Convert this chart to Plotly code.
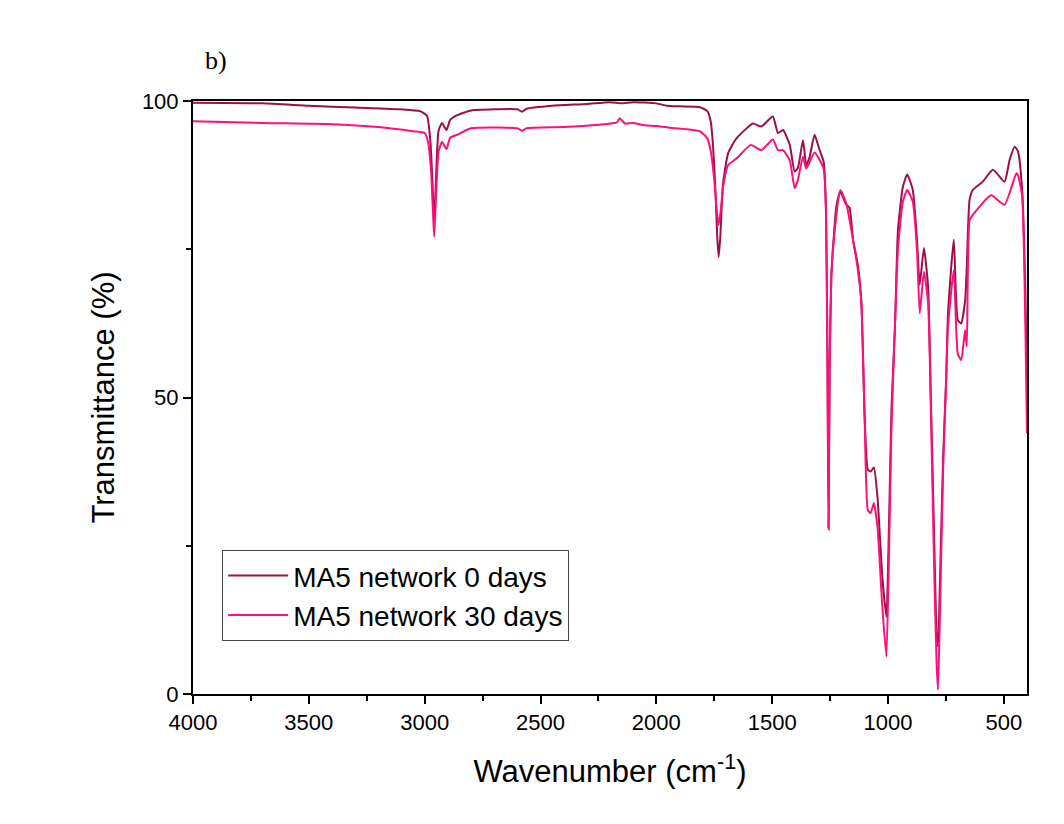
import plotly.graph_objects as go

# Wavenumber (cm-1) and transmittance (%)
wn_0 = [4000, 3700, 3500, 3300, 3100, 3020, 2990, 2975, 2965, 2959, 2952, 2940, 2925, 2906, 2890,
        2860, 2800, 2700, 2600, 2580, 2560, 2450, 2300, 2200, 2150, 2100, 2000, 1955, 1900, 1815,
        1780, 1765, 1755, 1745, 1737, 1731, 1724, 1712, 1690, 1654, 1583, 1547, 1497, 1475, 1453,
        1424, 1403, 1389, 1367, 1353, 1338, 1317, 1295, 1278, 1268, 1262, 1257, 1252, 1245, 1237,
        1223, 1206, 1180, 1166, 1151, 1130, 1115, 1101, 1087, 1075, 1061, 1045, 1025, 1007, 995,
        985, 970, 957, 936, 917, 893, 875, 863, 845, 827, 815, 800, 790, 784, 775, 762, 749, 741,
        716, 699, 684, 667, 660, 648, 634, 591, 547, 497, 475, 453, 439, 421, 407, 400]
tr_0 = [99.7, 99.6, 99.2, 98.9, 98.6, 98.3, 97.5, 93, 85, 79, 86, 95, 96.3, 95.1, 96.8,
        97.6, 98.4, 98.6, 98.6, 98.2, 98.7, 99.2, 99.5, 99.8, 99.6, 99.8, 99.6, 99.2, 99.1, 99.0,
        98.3, 96.5, 92.3, 85, 77, 73.7, 77, 86.1, 91.2, 93.7, 96.2, 95.7, 97.4, 94.6, 95.1,
        92.6, 88.1, 88.7, 93.4, 89.2, 90.6, 94.3, 91.7, 89.8, 82, 60, 28, 55, 70, 75.4,
        82.2, 84.7, 82.5, 82, 76.6, 72.3, 66, 47, 37.8, 37.5, 38.2, 33, 20, 13.0, 30,
        48, 62, 78.2, 85.5, 87.6, 85, 76.6, 69.0, 75.2, 68.7, 50, 25, 10, 8, 20, 40, 53, 64.2,
        76.6, 63.1, 62.5, 66.4, 72, 83.3, 85, 86.4, 88.4, 86.4, 90.1, 92.3, 91.5, 85, 68, 52]

wn_30 = [4000, 3700, 3400, 3200, 3050, 3000, 2985, 2972, 2965, 2959, 2952, 2940, 2925, 2906, 2890,
         2860, 2800, 2600, 2580, 2560, 2400, 2250, 2170, 2158, 2150, 2135, 2100, 2050, 2000, 1942,
         1813, 1780, 1765, 1750, 1738, 1731, 1722, 1712, 1690, 1654, 1592, 1547, 1497, 1475, 1453,
         1424, 1403, 1389, 1367, 1353, 1317, 1278, 1268, 1262, 1256, 1252, 1245, 1237, 1206, 1180,
         1151, 1130, 1115, 1101, 1087, 1075, 1061, 1045, 1025, 1007, 995, 985, 970, 957, 936, 917,
         893, 875, 863, 845, 827, 815, 800, 790, 784, 775, 762, 749, 741, 716, 699, 684, 667, 660,
         648, 634, 555, 497, 446, 439, 421, 407, 400]
tr_30 = [96.6, 96.3, 96.1, 95.6, 94.9, 94.6, 93, 88, 82, 77.1, 83, 91.5, 93.1, 91.9, 93.8,
         94.3, 95.4, 95.4, 95.0, 95.4, 95.6, 96.0, 96.4, 97.1, 96.8, 96.2, 96.3, 95.9, 95.8, 95.5,
         94.9, 93.7, 91.5, 86.7, 81, 79.1, 81.5, 85.5, 89.2, 90.3, 92.6, 91.7, 93.5, 91.7, 91.7,
         90.0, 85.3, 86.7, 90.6, 88.6, 91.3, 88.6, 82, 60, 27.7, 55, 70, 75.4, 85, 82.7,
         76.6, 71.5, 66, 47, 31.0, 30.5, 32.2, 28, 15, 6.3, 25, 45, 62, 75, 83, 85.0,
         83, 75, 64.2, 71.2, 66, 48, 20, 5, 0.7, 15, 38, 53, 62, 71.5, 57.4, 56.3, 61.4, 58.6,
         79.9, 80.8, 84.1, 82.5, 87.8, 87.5, 84, 62, 44]

x_ticks = [4000, 3500, 3000, 2500, 2000, 1500, 1000, 500]
y_ticks = [0, 50, 100]

fig = go.Figure()
fig.add_trace(go.Scatter(x=wn_0, y=tr_0, mode="lines", name="MA5 network 0 days",
                         line=dict(color="#9C0F4B", width=2, shape="spline", smoothing=0.5)))
fig.add_trace(go.Scatter(x=wn_30, y=tr_30, mode="lines", name="MA5 network 30 days",
                         line=dict(color="#FF0F78", width=2, shape="spline", smoothing=0.5)))

FAM = "Arial, Liberation Sans, sans-serif"
axis_font = dict(family=FAM, size=22, color="black")
fig.update_layout(
    width=1064, height=824,
    margin=dict(l=193, r=37, t=101, b=130),
    paper_bgcolor="white", plot_bgcolor="white",
    showlegend=True,
    legend=dict(x=0.035, y=0.243, xanchor="left", yanchor="top",
                bgcolor="white", bordercolor="#444", borderwidth=1,
                font=dict(family=FAM, size=28, color="black"),
                tracegroupgap=0, itemwidth=60),
    xaxis=dict(range=[4000, 400], tickvals=x_ticks, ticks="outside", ticklen=8, tickwidth=2,
               tickcolor="black", showline=True, linecolor="black", linewidth=2, mirror=True,
               showgrid=False, zeroline=False, tickfont=axis_font,
               minor=dict(dtick=250, ticks="outside", ticklen=5, tickwidth=2, tickcolor="black", tick0=0),
               title=dict(text="Wavenumber (cm<sup>-1</sup>)", standoff=26,
                          font=dict(family=FAM, size=31, color="black"))),
    yaxis=dict(range=[0, 100], tickvals=y_ticks, ticks="outside", ticklen=8, tickwidth=2,
               tickcolor="black", showline=True, linecolor="black", linewidth=2, mirror=True,
               showgrid=False, zeroline=False, tickfont=axis_font,
               minor=dict(dtick=25, ticks="outside", ticklen=5, tickwidth=2, tickcolor="black", tick0=0),
               title=dict(text="Transmittance (%)", standoff=18,
                          font=dict(family=FAM, size=31, color="black"))),
    annotations=[dict(text="b)", xref="paper", yref="paper", x=0.012, y=1.0, yshift=41,
                      xanchor="left", yanchor="middle", showarrow=False,
                      font=dict(family="Liberation Serif, DejaVu Serif, serif", size=26, color="black"))],
)

fig.write_html("out.html")
